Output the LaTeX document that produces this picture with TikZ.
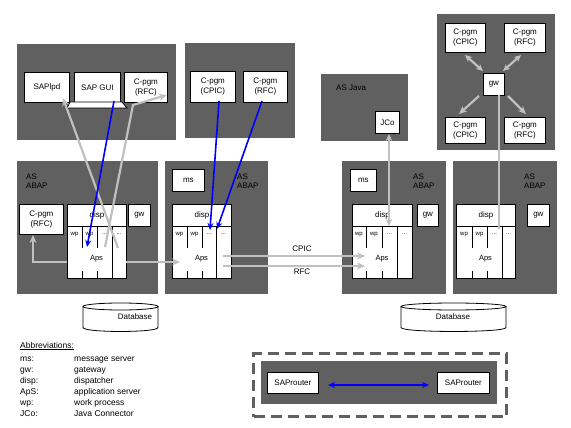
\documentclass[tikz,border=0pt]{standalone}
\usepackage{fontspec}
\setmainfont{Liberation Sans}
\usetikzlibrary{arrows.meta}
\definecolor{dk}{RGB}{96,96,96}
\definecolor{gl}{RGB}{192,192,192}
\definecolor{bl}{RGB}{0,0,255}
\newcommand\bx[7]{\node[#6, anchor=north west, minimum width={(#4-#2)*1pt}, minimum height={(#5-#3)*1pt}] (#1) at (#2,#3) {#7};}
\newcommand\asapp[6]{%
  \bx{#1disp}{#2}{204}{#6}{226}{wb}{disp}
  \bx{#1app}{#2}{226}{#6}{278}{wb}{}
  \draw[line width=0.8pt] (#3,226)--(#3,248) (#3,271)--(#3,278) (#4,226)--(#4,248) (#4,271)--(#4,278) (#5,226)--(#5,278);
  \node[wpl] (#1wa) at ({(#2+#3)/2},234.5) {wp};
  \node[wpl] (#1wb) at ({(#3+#4)/2},234.5) {wp};
  \node[wpl] (#1wc) at ({(#4+#5)/2},234.5) {...};
  \node[wpl] (#1wd) at ({(#5+#6)/2},234.5) {...};
  \node[apsl] (#1aps) at ({(#2+#6)/2},259) {Aps};
}
\begin{document}
\begin{tikzpicture}[x=1pt,y=-1pt,
  dark/.style={fill=dk,draw=none,inner sep=0pt},
  wb/.style={fill=white,draw=black,line width=0.8pt,inner sep=0pt,align=center,font=\fontsize{8}{10}\selectfont},
  lbl/.style={inner sep=0pt,align=left,font=\fontsize{8}{9}\selectfont,anchor=north west},
  wpl/.style={inner sep=0pt,font=\fontsize{6}{6}\selectfont},
  apsl/.style={inner sep=0pt,font=\fontsize{7.5}{8}\selectfont},
  abl/.style={inner sep=0pt,anchor=base west,font=\fontsize{8.5}{9}\selectfont},
  gline/.style={draw=gl,line width=2.2pt},
  garr/.style={gline,-{Stealth[length=8pt,width=7pt]}},
  garr2/.style={gline,{Stealth[length=7pt,width=6.5pt]}-{Stealth[length=7pt,width=6.5pt]}},
  barr/.style={draw=bl,line width=1.6pt,-{Stealth[length=7pt,width=6pt]}},
  barr2/.style={draw=bl,line width=1.6pt,{Stealth[length=7pt,width=6pt]}-{Stealth[length=7pt,width=6pt]}},
  dbs/.style={fill=white,draw=black,line width=0.8pt}
]
\useasboundingbox[fill=white] (0,0) rectangle (571,428);

% dark containers
\bx{cl1}{17}{44}{176}{140}{dark}{}
\bx{cl2}{185}{43}{295}{138}{dark}{}
\bx{java}{321}{74}{408}{141}{dark}{}
\bx{ext}{437}{14}{555}{150}{dark}{}
\bx{asA}{17}{161}{158}{294}{dark}{}
\bx{asB}{165}{161}{268}{294}{dark}{}
\bx{asC}{342}{161}{446}{294}{dark}{}
\bx{asD}{453}{161}{557}{294}{dark}{}
\bx{grp}{252}{352}{505}{415}{draw=dk,line width=3pt,dash pattern=on 11pt off 6pt}{}
\bx{rin}{261}{361}{497}{404}{dark}{}

% labels
\node[lbl] (lA) at (26,174) {AS\\ABAP};
\node[lbl] (lB) at (237,174) {AS\\ABAP};
\node[lbl] (lC) at (413,174) {AS\\ABAP};
\node[lbl] (lD) at (524,174) {AS\\ABAP};
\node[lbl] (lJ) at (336,85) {AS Java};

% client boxes
\bx{saplpd}{24}{72}{69}{102}{wb}{SAPlpd}
\bx{sapgui}{74}{72}{120}{102}{wb}{SAP GUI}
\draw[fill=white,line width=0.8pt] (70,102) -- (122,102) -- (127,108) -- (67,108) -- cycle;
\bx{cpgm1}{124}{72}{167}{102}{wb}{C-pgm\\(RFC)}
\bx{cpic2}{190}{71}{235}{102}{wb}{C-pgm\\(CPIC)}
\bx{rfc2}{243}{71}{287}{102}{wb}{C-pgm\\(RFC)}
\bx{jco}{375}{111}{399}{133}{wb}{JCo}
\bx{extc1}{445}{23}{485}{52}{wb}{C-pgm\\(CPIC)}
\bx{extr1}{504}{23}{545}{52}{wb}{C-pgm\\(RFC)}
\bx{extgw}{483}{73}{504}{95}{wb}{gw}
\bx{extc2}{445}{117}{485}{143}{wb}{C-pgm\\(CPIC)}
\bx{extr2}{504}{117}{545}{143}{wb}{C-pgm\\(RFC)}

% AS ABAP A
\bx{cpgmA}{19}{204}{63}{234}{wb}{C-pgm\\(RFC)}
\asapp{A}{67}{82}{97}{112}{126}
\bx{gwA}{128}{204}{150}{226}{wb}{gw}
% AS ABAP B
\bx{msB}{172}{169}{204}{191}{wb}{ms}
\asapp{B}{172}{187}{202}{216}{231}
% AS ABAP C
\bx{msC}{350}{169}{376}{191}{wb}{ms}
\asapp{C}{352}{366}{382}{397}{412}
\bx{gwC}{417}{204}{438}{226}{wb}{gw}
% AS ABAP D
\asapp{D}{456}{472}{487}{502}{515}
\bx{gwD}{527}{204}{549}{226}{wb}{gw}

% databases
\draw[dbs] (83,306.5) -- (83,327.5) .. controls (83,332.8) and (158,332.8) .. (158,327.5) -- (158,306.5);
\draw[dbs] (120.5,306.5) ellipse [x radius=37.5pt, y radius=3.5pt];
\node[inner sep=0pt,font=\fontsize{8}{9}\selectfont] (db1) at (135,317) {Database};
\draw[dbs] (401,306.5) -- (401,327.5) .. controls (401,332.8) and (506,332.8) .. (506,327.5) -- (506,306.5);
\draw[dbs] (453.5,306.5) ellipse [x radius=52.5pt, y radius=3.5pt];
\node[inner sep=0pt,font=\fontsize{8}{9}\selectfont] (db2) at (453,317) {Database};

% routers
\bx{rL}{267}{372}{318}{393}{wb}{SAProuter}
\bx{rR}{437}{372}{489}{393}{wb}{SAProuter}

% abbreviations
\node[abl] (ab0) at (20,348) {\underline{Abbreviations:}};
\node[abl] (ab1) at (20,361) {ms:};
\node[abl] (ab1t) at (74,361) {message server};
\node[abl] (ab2) at (20,372) {gw:};
\node[abl] (ab2t) at (74,372) {gateway};
\node[abl] (ab3) at (20,383) {disp:};
\node[abl] (ab3t) at (74,383) {dispatcher};
\node[abl] (ab4) at (20,394) {ApS:};
\node[abl] (ab4t) at (74,394) {application server};
\node[abl] (ab5) at (20,405) {wp:};
\node[abl] (ab5t) at (74,405) {work process};
\node[abl] (ab6) at (20,416) {JCo:};
\node[abl] (ab6t) at (74,416) {Java Connector};

% connector end points
\coordinate (c1s) at (118,248); \coordinate (c1e) at (63,98);
\coordinate (c2s) at (105,247); \coordinate (c2m) at (133,105); \coordinate (c2e) at (167,95);
\coordinate (c3s) at (67,262); \coordinate (c3e) at (33,235);
\coordinate (c4s) at (126,262); \coordinate (c4e) at (180,262);
\coordinate (c5s) at (223,256); \coordinate (c5e) at (365,256);
\coordinate (c6s) at (223,266); \coordinate (c6e) at (365,266);
\coordinate (j1) at (389,134); \coordinate (j2) at (389,226);
\coordinate (e1a) at (465,55); \coordinate (e1b) at (483,71);
\coordinate (e2a) at (521,55); \coordinate (e2b) at (503,71);
\coordinate (e3a) at (479,96); \coordinate (e3b) at (459,114);
\coordinate (e4a) at (508,96); \coordinate (e4b) at (526,114);
\coordinate (e5a) at (499,95); \coordinate (e5b) at (499,229);
\coordinate (b1s) at (114,101); \coordinate (b1e) at (87,247);
\coordinate (b2s) at (219,101); \coordinate (b2e) at (210,230);
\coordinate (b3s) at (262,101); \coordinate (b3e) at (217,229);
\coordinate (r1) at (328,385); \coordinate (r2) at (429,385);

% gray connectors
\draw[garr] (c1s) -- (c1e);
\draw[garr] (c2s) -- (c2m) -- (c2e);
\draw[garr] (c3s) -| (c3e);
\draw[garr] (c4s) -- (c4e);
\draw[garr] (c5s) -- (c5e);
\draw[garr] (c6s) -- (c6e);
\draw[garr2] (j1) -- (j2);
\draw[garr2] (e1a) -- (e1b);
\draw[garr2] (e2a) -- (e2b);
\draw[garr] (e3a) -- (e3b);
\draw[garr] (e4a) -- (e4b);
\draw[gline] (e5a) -- (e5b);

\node[inner sep=0pt,font=\fontsize{8}{9}\selectfont] (tcpic) at (302,249) {CPIC};
\node[inner sep=0pt,font=\fontsize{8}{9}\selectfont] (trfc) at (302,272) {RFC};

% blue connectors
\draw[barr] (b1s) -- (b1e);
\draw[barr] (b2s) -- (b2e);
\draw[barr] (b3s) -- (b3e);
\draw[barr2] (r1) -- (r2);
\end{tikzpicture}
\end{document}
